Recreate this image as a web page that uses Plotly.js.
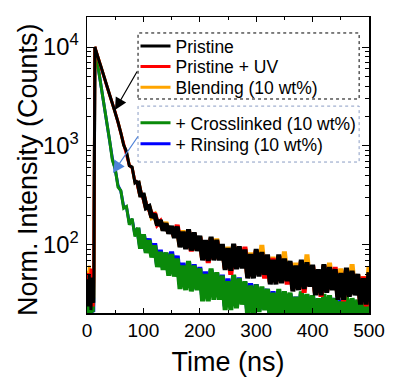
<!DOCTYPE html>
<html><head><meta charset="utf-8">
<script src="https://cdn.plot.ly/plotly-3.0.1.min.js"></script>
<style>html,body{margin:0;padding:0;background:#fff}#chart{width:402px;height:392px}</style>
</head><body><div id="chart"></div>
<script>
const timeNs = [0,1,2,3,4,5,6,7,8,9,10,11,12,13,14,16,18,20,22,
25,30,35,40,45,50,55,60,65,70,75,80,85,90,
95,100,105,110,115,120,125,130,135,140,145,150,155,160,165,170,175,180,185,190,195,200,
205,210,215,220,225,230,235,240,245,250,255,260,265,270,275,280,285,290,295,300,
305,310,315,320,325,330,335,340,345,350,355,360,365,370,375,380,385,390,395,400,
405,410,415,420,425,430,435,440,445,450,455,460,465,470,475,480,485,490,495,500];

const pristine = [32,45,24,38,50,28,41,22,36,47,30,40,26,8000,10000,9100,8500,7760,7080,
6300,5000,4070,3310,2690,2190,1740,1360,1020,880,632,613,425,446,
320,320,238,245,190,205,158,178,140,165,130,155,118,153,95,136,91,144,88,134,87,124,
70,112,69,121,70,113,70,102,56,93,55,103,57,97,58,90,46,81,46,91,
48,85,50,80,40,71,40,80,41,73,43,69,34,62,35,71,36,67,38,63,
31,57,31,64,33,60,35,57,28,52,28,59,30,55,31,51,25,46,25,53];

const pristineUV = [40,28,52,33,25,46,30,58,27,42,35,24,48,8100,10000,9150,8450,7800,7050,
6250,5020,4050,3330,2670,2200,1730,1340,1070,860,640,600,440,430,
325,312,242,238,194,210,162,172,144,160,134,150,122,160,100,130,94,140,86,130,90,120,
72,108,66,116,72,110,72,98,58,90,50,100,59,94,60,96,48,78,48,88,
50,82,46,78,42,74,42,77,43,70,40,66,36,60,37,68,33,64,40,62,
33,55,30,62,34,58,36,60,30,50,27,57,31,53,32,50,26,48,24,51];

const blending = [36,55,30,44,62,27,39,48,25,57,33,45,29,7950,10000,9080,8520,7740,7100,
6320,4980,4090,3300,2700,2180,1750,1355,1030,870,640,605,430,440,
322,316,240,242,192,202,160,176,142,170,132,152,120,150,97,140,93,140,90,132,89,122,
72,110,71,118,72,116,72,100,58,96,57,100,59,95,60,92,48,84,48,88,
50,100,52,78,42,76,42,78,43,86,45,67,36,66,37,69,38,80,40,61,
33,55,33,62,35,66,37,55,30,58,30,57,32,64,33,50,27,48,27,60];

const crosslinked = [22,30,18,26,35,20,28,24,19,32,25,21,27,7000,10000,8510,7240,6030,5130,
3980,2630,1660,1150,720,590,385,355,235,245,160,185,122,150,
92,128,83,112,75,99,60,85,56,84,49,81,48,73,36,62,35,69,34,62,35,58,
27,51,27,58,28,53,28,49,22,43,22,50,23,46,25,43,19,39,20,40,
21,38,22,36,18,33,18,36,19,34,20,33,16,30,17,34,18,32,19,31,
15,29,16,32,17,31,18,29,15,27,15,30,16,29,18,28,14,26,14,29];

const rinsing = [26,20,33,23,19,29,22,31,27,20,24,30,21,7100,10000,8560,7300,6100,5200,
4050,2680,1700,1140,750,580,400,350,245,240,168,182,128,148,
97,126,87,116,79,104,63,89,59,83,52,86,50,78,40,66,38,68,37,64,36,60,
30,54,29,56,30,52,29,50,24,46,24,48,25,47,26,42,21,41,22,40,
22,37,23,36,19,34,20,34,20,33,21,32,18,30,18,32,19,31,20,30,
16,29,17,30,18,30,18,29,16,28,16,29,17,28,18,27,15,27,15,28];

const seriesNames = ['Pristine','Pristine + UV','Blending (10 wt%)','+ Crosslinked (10 wt%)','+ Rinsing (10 wt%)'];
const fam = 'Arial, "Liberation Sans", sans-serif';
const tickFont = {family:fam, size:19, color:'#000'};
const titleFont = {family:fam, size:27, color:'#000'};
const legFont = {family:fam, size:17.5, color:'#000'};

const specs = [
  {y: rinsing, name: seriesNames[4], color:'#0000ff', legend:'legend5'},
  {y: crosslinked, name: seriesNames[3], color:'#0a8a0a', legend:'legend4'},
  {y: blending, name: seriesNames[2], color:'#ffa500', legend:'legend3'},
  {y: pristineUV, name: seriesNames[1], color:'#ff0000', legend:'legend2'},
  {y: pristine, name: seriesNames[0], color:'#000000', legend:'legend'}
];
// early (thin) part and noisy tail (drawn thicker so the noise reads as a band)
const split = timeNs.indexOf(90);
const data = [];
specs.forEach(s => {
  data.push({type:'scatter', mode:'lines', x: timeNs.slice(0, split+1), y: s.y.slice(0, split+1),
    name: s.name, legend: s.legend, legendgroup: s.name, line:{color:s.color, width:3}});
  data.push({type:'scatter', mode:'lines', x: timeNs.slice(split), y: s.y.slice(split),
    name: s.name, legend: s.legend, legendgroup: s.name, showlegend:false, line:{color:s.color, width:5}});
});

function leg(y){
  return {x:0.172, y:y, xanchor:'left', yanchor:'top', bgcolor:'rgba(0,0,0,0)',
    borderwidth:0, font:legFont, tracegroupgap:0};
}

const layout = {
  width:402, height:392,
  margin:{l:87, r:33, t:17, b:79},
  paper_bgcolor:'#fff', plot_bgcolor:'#fff',
  showlegend:true,
  xaxis:{
    range:[0,500], tick0:0, dtick:100, ticks:'inside', ticklen:5, tickwidth:1, tickcolor:'#000',
    showline:true, linewidth:1.5, linecolor:'#000', mirror:'ticks',
    showgrid:false, zeroline:false, tickfont:tickFont,
    minor:{dtick:50, ticks:'inside', ticklen:3, tickcolor:'#000', showgrid:false},
    title:{text:'Time (ns)', font:titleFont, standoff:12}
  },
  yaxis:{
    type:'log', range:[1.313,4.303], dtick:1, exponentformat:'power',
    ticks:'inside', ticklen:7, tickwidth:1, tickcolor:'#000', ticklabelstandoff:3,
    showline:true, linewidth:1.5, linecolor:'#000', mirror:'ticks',
    showgrid:false, zeroline:false, tickfont:tickFont,
    minor:{dtick:'D1', ticks:'inside', ticklen:4, tickcolor:'#000', showgrid:false}
  },
  legend: leg(0.962),
  legend2: leg(0.893),
  legend3: leg(0.823),
  legend4: leg(0.703),
  legend5: leg(0.632),
  shapes:[
    {type:'rect', xref:'paper', yref:'paper', x0:0.181, x1:0.965, y0:0.723, y1:0.946,
     line:{color:'#000', width:1, dash:'dot'}},
    {type:'rect', xref:'paper', yref:'paper', x0:0.181, x1:0.965, y0:0.510, y1:0.699,
     line:{color:'#8a9cc4', width:1, dash:'dot'}}
  ],
  annotations:[
    {text:'Norm. Intensity (Counts)', xref:'paper', yref:'paper', x:-0.209, y:0.483,
     xanchor:'center', yanchor:'middle', textangle:-90, showarrow:false, font:titleFont},
    {x:49.6, y:3.364, xref:'x', yref:'y', text:'', showarrow:true, ax:23, ay:-40,
     arrowhead:2, arrowsize:2, arrowwidth:1.2, arrowcolor:'#000'},
    {x:46, y:2.727, xref:'x', yref:'y', text:'', showarrow:true, ax:26, ay:-38,
     arrowhead:2, arrowsize:2, arrowwidth:1.2, arrowcolor:'#4f83d8'}
  ]
};
Plotly.newPlot('chart', data, layout, {staticPlot:true, displayModeBar:false});
</script></body></html>
